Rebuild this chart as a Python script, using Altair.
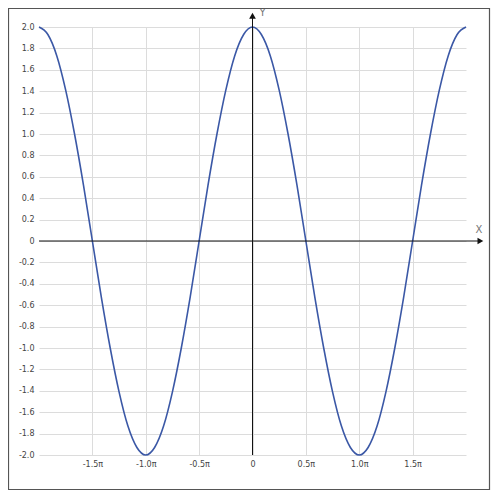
import altair as alt
import pandas as pd

# Curve samples (x in units of pi), every pi/12
X_PI = [-2.0, -1.917, -1.833, -1.75, -1.667, -1.583, -1.5, -1.417, -1.333, -1.25, -1.167, -1.083,
        -1.0, -0.917, -0.833, -0.75, -0.667, -0.583, -0.5, -0.417, -0.333, -0.25, -0.167, -0.083,
        0.0, 0.083, 0.167, 0.25, 0.333, 0.417, 0.5, 0.583, 0.667, 0.75, 0.833, 0.917,
        1.0, 1.083, 1.167, 1.25, 1.333, 1.417, 1.5, 1.583, 1.667, 1.75, 1.833, 1.917, 2.0]
Y_VAL = [2.0, 1.93, 1.73, 1.41, 1.0, 0.52, 0.0, -0.52, -1.0, -1.41, -1.73, -1.93,
         -2.0, -1.93, -1.73, -1.41, -1.0, -0.52, 0.0, 0.52, 1.0, 1.41, 1.73, 1.93,
         2.0, 1.93, 1.73, 1.41, 1.0, 0.52, 0.0, -0.52, -1.0, -1.41, -1.73, -1.93,
         -2.0, -1.93, -1.73, -1.41, -1.0, -0.52, 0.0, 0.52, 1.0, 1.41, 1.73, 1.93, 2.0]

X_TICKS = [-1.5, -1.0, -0.5, 0.0, 0.5, 1.0, 1.5]
Y_TICKS = [-2.0, -1.8, -1.6, -1.4, -1.2, -1.0, -0.8, -0.6, -0.4, -0.2, 0.0,
           0.2, 0.4, 0.6, 0.8, 1.0, 1.2, 1.4, 1.6, 1.8, 2.0]

# axis lines, arrow heads and axis names (data units)
AXIS_LINES = pd.DataFrame({"x": [-2.0, 0.0], "x2": [2.13, 0.0], "y": [0.0, -2.0], "y2": [0.0, 2.1]})
ARROWS = pd.DataFrame({"x": [2.135, 0.0], "y": [0.0, 2.105], "shape": ["triangle-right", "triangle-up"]})
AXIS_NAMES = pd.DataFrame({"x": [2.12, 0.095], "y": [0.1, 2.13], "t": ["X", "Y"]})

curve = pd.DataFrame({"x": X_PI, "y": Y_VAL})

FONT = "DejaVu Sans"
xscale = alt.Scale(domain=[-2, 2], nice=False, zero=False)
yscale = alt.Scale(domain=[-2, 2], nice=False, zero=False)

line = alt.Chart(curve).mark_line(color="#3b58a6", strokeWidth=1.6, interpolate="monotone").encode(
    x=alt.X("x:Q", scale=xscale, title=None, axis=alt.Axis(
        values=X_TICKS, tickCount=len(X_TICKS), grid=True, domain=False, ticks=False,
        labelPadding=5, labelOverlap=False,
        labelExpr="datum.value == 0 ? '0' : (datum.value < 0 ? '-' : '') + format(abs(datum.value), '.1f') + 'π'")),
    y=alt.Y("y:Q", scale=yscale, title=None, axis=alt.Axis(
        values=Y_TICKS, tickCount=len(Y_TICKS), grid=True, domain=False, ticks=False,
        labelPadding=5, labelOverlap=False,
        labelExpr="abs(datum.value) < 1e-9 ? '0' : (datum.value < 0 ? '-' : '') + format(abs(datum.value), '.1f')")),
)

axes = alt.Chart(AXIS_LINES).mark_rule(color="#111", strokeWidth=1).encode(
    x=alt.X("x:Q", scale=xscale, title=None), x2="x2:Q",
    y=alt.Y("y:Q", scale=yscale, title=None), y2="y2:Q",
)

arrows = alt.Chart(ARROWS).mark_point(filled=True, color="#111", size=45, opacity=1).encode(
    x=alt.X("x:Q", scale=xscale, title=None),
    y=alt.Y("y:Q", scale=yscale, title=None),
    shape=alt.Shape("shape:N", scale=None, legend=None),
)

names = alt.Chart(AXIS_NAMES).mark_text(font=FONT, fontSize=10, color="#777", align="center", baseline="middle").encode(
    x=alt.X("x:Q", scale=xscale, title=None),
    y=alt.Y("y:Q", scale=yscale, title=None),
    text="t:N",
)

frame = alt.Chart(pd.DataFrame({"a": [0]})).mark_rect(filled=False, stroke="#555", strokeWidth=1.2).encode(
    x=alt.value(-30.5), x2=alt.value(450.5), y=alt.value(-18.5), y2=alt.value(462.5),
)

chart = alt.layer(line, axes, arrows, names, frame).properties(
    width=427, height=428,
    autosize=alt.AutoSizeParams(type="none"),
    padding={"left": 31, "top": 19, "right": 26, "bottom": 38},
).configure_view(stroke=None).configure_axis(
    gridColor="#dcdcdc", gridWidth=1, labelFont=FONT, labelFontSize=8, labelColor="#444",
)

chart.save("out.html", embed_options={"renderer": "svg", "actions": False})
